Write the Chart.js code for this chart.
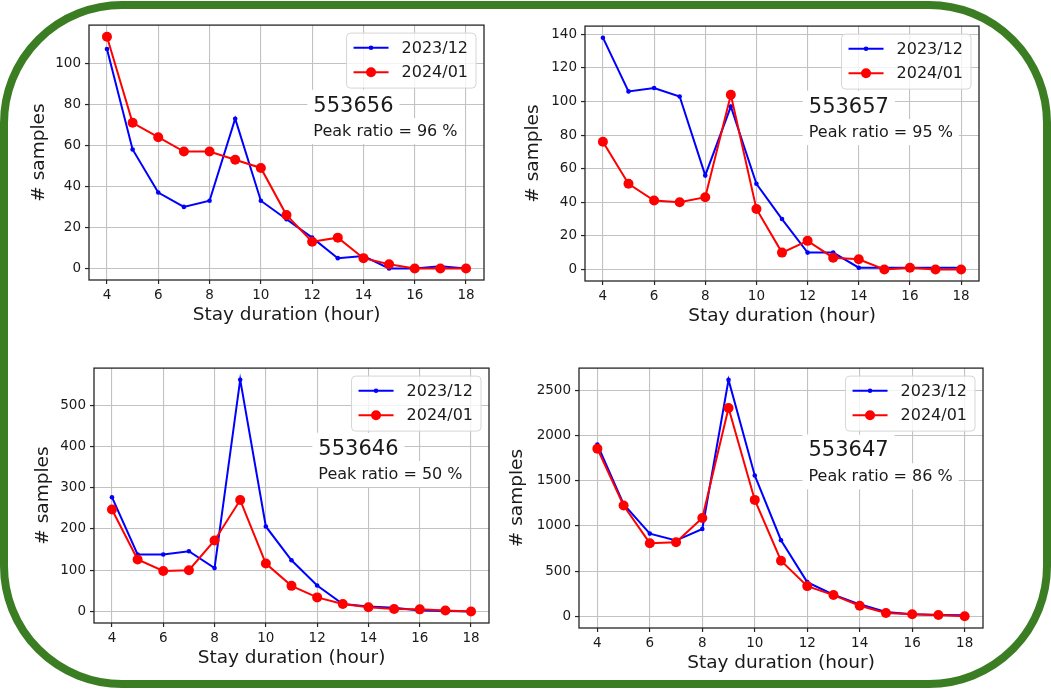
<!DOCTYPE html>
<html>
<head>
<meta charset="utf-8">
<script src="https://cdn.jsdelivr.net/npm/chart.js@4.4.1/dist/chart.umd.min.js"></script>
<style>
  body { margin:0; background:#fff; width:1051px; height:693px; overflow:hidden; position:relative; }
  #frame { position:absolute; left:0; top:1px; width:1051px; height:687px; box-sizing:border-box;
           border:8px solid #3b7d23; border-radius:122px; }
  canvas { position:absolute; }
</style>
</head>
<body>
<div id="frame"></div>
<canvas id="c553656"></canvas>
<canvas id="c553657"></canvas>
<canvas id="c553646"></canvas>
<canvas id="c553647"></canvas>
<script>
// data
const hours = [4,5,6,7,8,9,10,11,12,13,14,15,16,17,18];
const xTicks = [4,6,8,10,12,14,16,18];
const seriesNames = ['2023/12', '2024/01'];
const xTitle = 'Stay duration (hour)';
const yTitle = '# samples';

const dec553656 = [107,58,37,30,33,73,33,24,15,5,6,0,0,1,0];
const jan553656 = [113,71,64,57,57,53,49,26,13,15,5,2,0,0,0];
const yTicks553656 = [0,20,40,60,80,100];

const dec553657 = [138,106,108,103,56,97,51,30,10,10,1,1,1,1,1];
const jan553657 = [76,51,41,40,43,104,36,10,17,7,6,0,1,0,0];
const yTicks553657 = [0,20,40,60,80,100,120,140];

const dec553646 = [277,138,138,146,105,562,206,124,63,18,12,9,2,1,0];
const jan553646 = [247,126,98,100,172,270,116,62,34,18,10,6,5,2,0];
const yTicks553646 = [0,100,200,300,400,500];

const dec553647 = [1898,1241,916,839,967,2613,1558,843,380,241,135,51,26,18,15];
const jan553647 = [1854,1226,810,821,1088,2303,1288,617,336,237,120,40,26,18,4];
const yTicks553647 = [0,500,1000,1500,2000,2500];

const stations = ['553656','553657','553646','553647'];
const peakRatios = [96, 95, 50, 86];
const decSeries = [dec553656, dec553657, dec553646, dec553647];
const janSeries = [jan553656, jan553657, jan553646, jan553647];
const yTickSets = [yTicks553656, yTicks553657, yTicks553646, yTicks553647];

// panel placement (canvas box, y axis width, y title offset)
const layout = [
  { left:19,  top:13,  w:475, h:323, yw:70, ytp:9 },
  { left:515, top:14,  w:474, h:323, yw:70, ytp:7 },
  { left:24,  top:356, w:475, h:323, yw:70, ytp:8.5 },
  { left:509, top:356, w:484, h:328, yw:70, ytp:-2.5 }
];

const FONT = '"DejaVu Sans", "Liberation Sans", sans-serif';
const TXT = '#1a1a1a';

function panelPlugin(idx) {
  return {
    id: 'panel' + idx,
    afterDatasetsDraw(chart) {
      const ctx = chart.ctx;
      const ca = chart.chartArea;
      const w = ca.right - ca.left, h = ca.bottom - ca.top;
      ctx.save();
      // axes frame
      ctx.strokeStyle = '#262626';
      ctx.lineWidth = 1.3;
      ctx.strokeRect(ca.left, ca.top, w, h);

      // station label + peak ratio
      const tx = ca.left + 0.568 * w;
      const lines = [
        { text: stations[idx], size: 21, base: ca.top + 0.34 * h },
        { text: 'Peak ratio = ' + peakRatios[idx] + ' %', size: 16, base: ca.top + 0.436 * h }
      ];
      lines.forEach(l => {
        ctx.font = l.size + 'px ' + FONT;
        const tw = ctx.measureText(l.text).width;
        ctx.fillStyle = '#ffffff';
        ctx.fillRect(tx - 6, l.base - 0.76 * l.size - 6, tw + 12, l.size + 10);
      });
      lines.forEach(l => {
        ctx.font = l.size + 'px ' + FONT;
        ctx.fillStyle = TXT;
        ctx.textBaseline = 'alphabetic';
        ctx.textAlign = 'left';
        ctx.fillText(l.text, tx, l.base);
      });

      // legend
      ctx.font = '16px ' + FONT;
      const ds = chart.data.datasets;
      const tw = Math.max(...ds.map(d => ctx.measureText(d.label).width));
      const bw = 7 + 35 + 13 + tw + 8, bh = 55;
      const bx = ca.right - 8 - bw, by = ca.top + 8;
      ctx.beginPath();
      ctx.roundRect(bx, by, bw, bh, 4);
      ctx.fillStyle = 'rgba(255,255,255,0.8)';
      ctx.fill();
      ctx.strokeStyle = '#d5d5d5';
      ctx.lineWidth = 1;
      ctx.stroke();
      ds.forEach((d, i) => {
        const y = by + 14.7 + i * 24.5;
        ctx.strokeStyle = d.borderColor;
        ctx.lineWidth = 2;
        ctx.beginPath();
        ctx.moveTo(bx + 7, y);
        ctx.lineTo(bx + 42, y);
        ctx.stroke();
        ctx.fillStyle = d.borderColor;
        ctx.beginPath();
        ctx.arc(bx + 24.5, y, d.pointRadius, 0, Math.PI * 2);
        ctx.fill();
        ctx.fillStyle = TXT;
        ctx.textBaseline = 'middle';
        ctx.fillText(d.label, bx + 55, y + 1);
      });
      ctx.restore();
    }
  };
}

function makeChart(idx) {
  const L = layout[idx];
  const el = document.getElementById('c' + stations[idx]);
  el.width = L.w; el.height = L.h;
  el.style.left = L.left + 'px'; el.style.top = L.top + 'px';

  const all = decSeries[idx].concat(janSeries[idx]);
  const lo = Math.min(...all), hi = Math.max(...all);
  const m = 0.05 * (hi - lo);
  const yTicks = yTickSets[idx];

  const grid = { color: '#c2c2c2', lineWidth: 1.1, tickLength: 4, tickColor: '#262626', tickWidth: 1.2 };

  new Chart(el, {
    type: 'line',
    data: {
      datasets: [
        { label: seriesNames[0], data: hours.map((x, i) => ({ x, y: decSeries[idx][i] })),
          borderColor: '#0000ff', backgroundColor: '#0000ff', borderWidth: 2,
          pointRadius: 2.3, pointBorderWidth: 0, order: 1, tension: 0 },
        { label: seriesNames[1], data: hours.map((x, i) => ({ x, y: janSeries[idx][i] })),
          borderColor: '#ff0000', backgroundColor: '#ff0000', borderWidth: 2,
          pointRadius: 5, pointBorderWidth: 0, order: 0, tension: 0 }
      ]
    },
    options: {
      responsive: false,
      animation: false,
      devicePixelRatio: 1,
      layout: { padding: { top: 10, right: 10, left: 0, bottom: 0 } },
      plugins: { legend: { display: false }, tooltip: { enabled: false } },
      scales: {
        x: {
          type: 'linear', min: 3.3, max: 18.7,
          afterBuildTicks: s => { s.ticks = xTicks.map(v => ({ value: v })); },
          afterFit: s => { s.height = 56; },
          grid: grid,
          border: { display: false },
          ticks: { color: TXT, font: { family: FONT, size: 13.5 }, padding: 3.5, maxRotation: 0, autoSkip: false,
                   callback: v => String(v) },
          title: { display: true, text: xTitle, color: TXT, font: { family: FONT, size: 18.5, lineHeight: 1.2 },
                   padding: { top: 0, bottom: 9.4 } }
        },
        y: {
          type: 'linear', min: lo - m, max: hi + m,
          afterBuildTicks: s => { s.ticks = yTicks.map(v => ({ value: v })); },
          afterFit: s => { s.width = L.yw; },
          grid: grid,
          border: { display: false },
          ticks: { color: TXT, font: { family: FONT, size: 13.5 }, padding: 4, autoSkip: false,
                   callback: v => String(v) },
          title: { display: true, text: yTitle, color: TXT, font: { family: FONT, size: 18.5, lineHeight: 1.2 },
                   padding: { top: L.ytp, bottom: 0 } }
        }
      }
    },
    plugins: [panelPlugin(idx)]
  });
}

stations.forEach((s, i) => makeChart(i));
</script>
</body>
</html>
